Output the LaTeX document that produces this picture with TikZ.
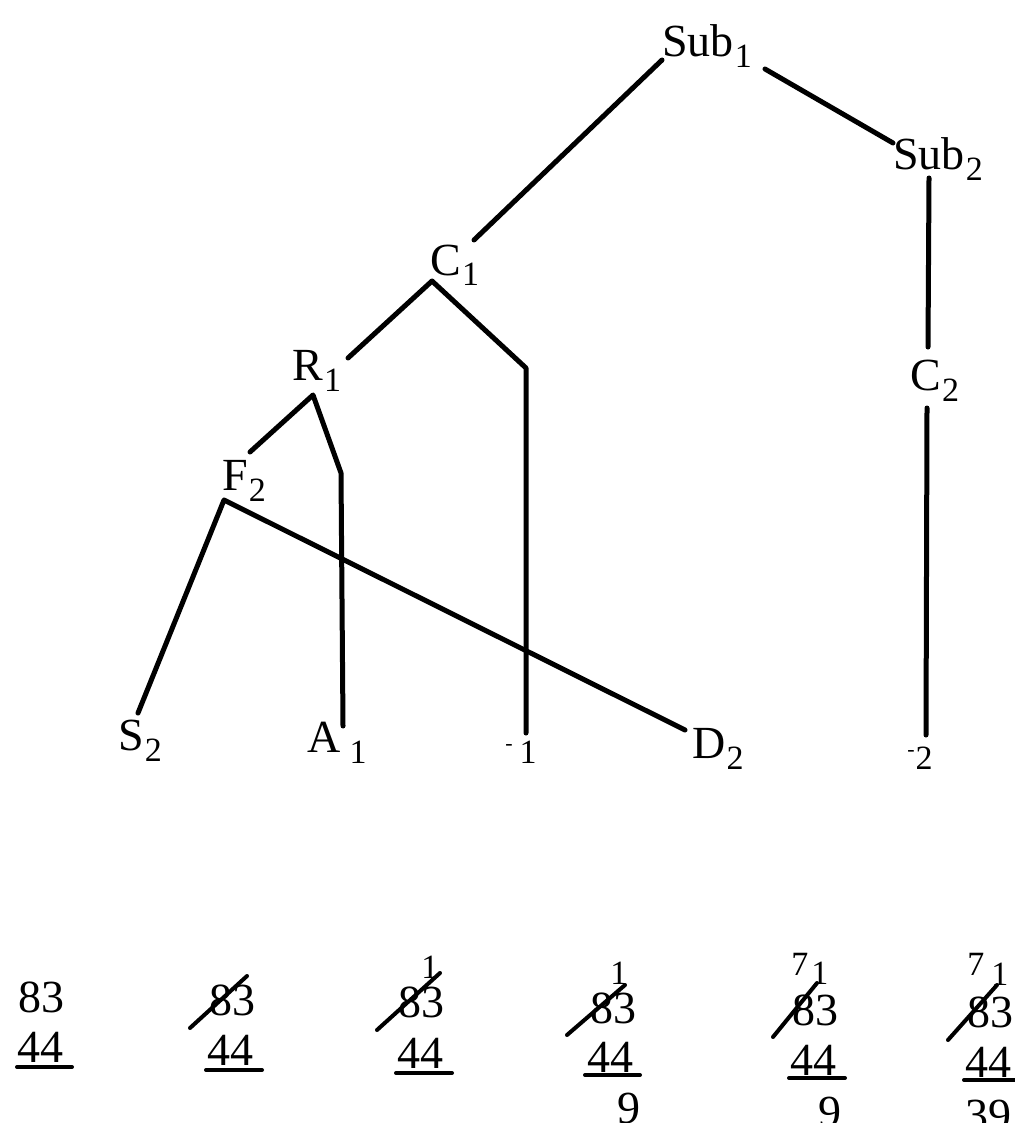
\documentclass[tikz,border=0pt]{standalone}
\usepackage{fontspec}
\setmainfont{Liberation Serif}
\newcommand\sbs[1]{\kern0.5pt\raisebox{-5.5pt}{\fontsize{17}{17}\selectfont #1}}
\newcommand\lfont{\fontsize{23}{26}\selectfont}
\newcommand\cfont{\fontsize{17}{17}\selectfont}
\begin{document}
\begin{tikzpicture}[x=0.5pt,y=-0.5pt,
  lbl/.style={inner sep=0pt, anchor=base west, font=\lfont},
  carry/.style={inner sep=0pt, anchor=base west, font=\cfont},
  ln/.style={line width=2.5pt, line cap=round, line join=round},
  mark1/.style={line width=2pt, line cap=round}]
\useasboundingbox (0,0) rectangle (1015,1123);
% labels
\node[lbl] (sub1) at (662,57) {Sub\sbs{1}};
\node[lbl] (sub2) at (893,170) {Sub\sbs{2}};
\node[lbl] (c1) at (430,275) {C\sbs{1}};
\node[lbl] (r1) at (292,380) {R\sbs{1}};
\node[lbl] (f2) at (222,490) {F\sbs{2}};
\node[lbl] (c2) at (910,390) {C\sbs{2}};
\node[lbl] (s2) at (118,750) {S\sbs{2}};
\node[lbl] (a1) at (307,752) {A\kern4pt\sbs{1}};
\node[lbl] (e1) at (505,752) {{\fontsize{11}{11}\selectfont\raisebox{1pt}{-}}\kern3pt\sbs{1}};
\node[lbl] (d2) at (692,758) {D\sbs{2}};
\node[lbl] (e2) at (907,758) {{\fontsize{11}{11}\selectfont\raisebox{1pt}{-}}\kern0pt\sbs{2}};
% connector points
\coordinate (sub1L) at (662,60);
\coordinate (sub1R) at (765,69);
\coordinate (sub2T) at (893,143);
\coordinate (sub2B) at (929,178);
\coordinate (c2T) at (928,347);
\coordinate (c2B) at (927,408);
\coordinate (e2T) at (926,735);
\coordinate (c1T) at (474,240);
\coordinate (c1A) at (432,281);
\coordinate (r1T) at (348,358);
\coordinate (c1K) at (526,368);
\coordinate (e1T) at (526,733);
\coordinate (r1A) at (313,395);
\coordinate (f2T) at (250,452);
\coordinate (r1K) at (341,473);
\coordinate (a1T) at (343,726);
\coordinate (f2A) at (224,500);
\coordinate (s2T) at (138,713);
\coordinate (d2T) at (685,730);
% tree lines
\draw[ln] (sub1L) -- (c1T);
\draw[ln] (sub1R) -- (sub2T);
\draw[ln] (sub2B) -- (c2T);
\draw[ln] (c2B) -- (e2T);
\draw[ln] (r1T) -- (c1A) -- (c1K) -- (e1T);
\draw[ln] (f2T) -- (r1A) -- (r1K) -- (a1T);
\draw[ln] (s2T) -- (f2A) -- (d2T);
% subtraction steps
% step 1
\node[lbl] (n1a) at (18,1012) {83};
\node[lbl] (n1b) at (17,1062) {44};
\draw[mark1] (17,1067) -- (72,1067);
% step 2
\node[lbl] (n2a) at (209,1015) {83};
\node[lbl] (n2b) at (207,1065) {44};
\draw[mark1] (190,1028) -- (247,976);
\draw[mark1] (206,1070) -- (262,1070);
% step 3
\node[lbl] (n3a) at (398,1017) {83};
\node[carry] (k3) at (421,978) {1};
\node[lbl] (n3b) at (397,1068) {44};
\draw[mark1] (377,1030) -- (440,973);
\draw[mark1] (396,1073) -- (452,1073);
% step 4
\node[lbl] (n4a) at (590,1023) {83};
\node[carry] (k4) at (610,984) {1};
\node[lbl] (n4b) at (587,1072) {44};
\draw[mark1] (567,1035) -- (625,985);
\draw[mark1] (585,1075) -- (640,1075);
\node[lbl] (n4c) at (617,1123) {9};
% step 5
\node[carry] (s5) at (791,975) {7};
\node[carry] (k5) at (811,984) {1};
\node[lbl] (n5a) at (792,1025) {83};
\node[lbl] (n5b) at (790,1075) {44};
\draw[mark1] (773,1037) -- (817,983);
\draw[mark1] (789,1078) -- (845,1078);
\node[lbl] (n5c) at (818,1127) {9};
% step 6
\node[carry] (s6) at (967,975) {7};
\node[carry] (k6) at (991,985) {1};
\node[lbl] (n6a) at (967,1027) {83};
\node[lbl] (n6b) at (965,1077) {44};
\draw[mark1] (948,1040) -- (997,985);
\draw[mark1] (964,1080) -- (1015,1080);
\node[lbl] (n6c) at (965,1130) {39};
\end{tikzpicture}
\end{document}
